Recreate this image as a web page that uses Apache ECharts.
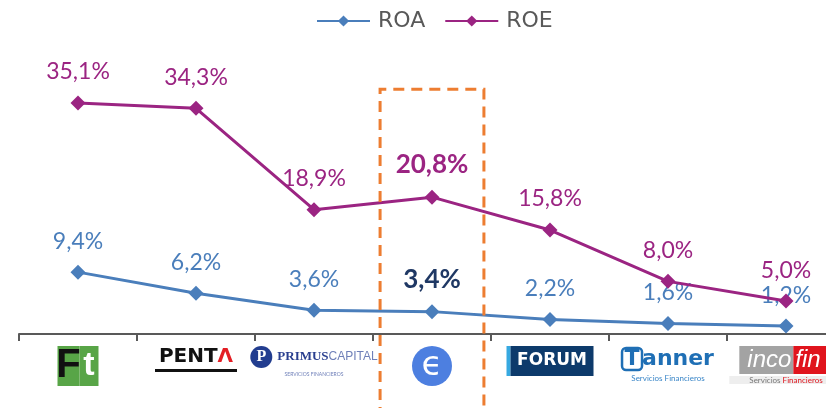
<!DOCTYPE html>
<html>
<head>
<meta charset="utf-8">
<script src="https://cdn.jsdelivr.net/npm/echarts@6/dist/echarts.min.js"></script>
<style>html,body{margin:0;padding:0;background:#fff}#c{width:826px;height:408px}</style>
</head>
<body>
<div id="c"></div>
<script>
// Data
var categories = ['Ft', 'PENTA', 'PRIMUS CAPITAL', 'Empresa', 'FORUM', 'Tanner', 'incofin'];
var roa = [9.4, 6.2, 3.6, 3.4, 2.2, 1.6, 1.2];
var roe = [35.1, 34.3, 18.9, 20.8, 15.8, 8.0, 5.0];
var seriesNames = ['ROA', 'ROE'];
var highlightIndex = 3;

var ROA_C = '#4a7ebb', ROE_C = '#9b2482', HI_ROA = '#1f3864', ORANGE = '#ed7d31';
var FONT = 'Lato, "DejaVu Sans", sans-serif';

function fmt(v) { return v.toFixed(1).replace('.', ',') + '%'; }

function mkData(arr, color, hiColor) {
  return arr.map(function (v, i) {
    var d = { value: v };
    if (i === highlightIndex) {
      d.label = { fontWeight: 'bold', color: hiColor, fontSize: 26 };
    }
    return d;
  });
}

var logoFormat = [
  '{fa|F}{fb|t}',
  '{pen|PENT}{pa|Λ}\n{pbar|}',
  '{pc|P}{pm|PRIMUS}{pcap|CAPITAL}\n{pspace|}{ps|SERVICIOS FINANCIEROS}',
  '{circ|ϵ}',
  '{fs|}{forum|FORUM}',
  '{tT|T}{tan|anner}\n{tsub|Servicios Financieros}',
  '{inco|inco}{fin|fin}\n{isub|Servicios }{isubr|Financieros}'
];

var chart = echarts.init(document.getElementById('c'));
chart.setOption({
  animation: false,
  textStyle: { fontFamily: FONT },
  legend: {
    top: 5, left: 311,
    itemWidth: 53, itemHeight: 14, itemGap: 19,
    textStyle: { fontSize: 22, color: '#595959', fontFamily: '"DejaVu Sans", sans-serif', padding: [0, 0, 0, 3] },
    data: seriesNames
  },
  grid: { left: 19, width: 826, top: 5, bottom: 74, outerBoundsMode: 'none', containLabel: false },
  xAxis: {
    type: 'category',
    data: categories,
    boundaryGap: true,
    axisLine: { lineStyle: { color: '#595959', width: 2 } },
    axisTick: { show: true, length: 7, lineStyle: { color: '#595959', width: 2 } },
    axisLabel: {
      margin: 12, interval: 0, hideOverlap: false,
      formatter: function (v, i) { return logoFormat[i]; },
      rich: {
        fa: { backgroundColor: '#58a547', color: '#111', fontSize: 40, fontWeight: 'bold', fontFamily: 'Liberation Sans', width: 22, height: 40, align: 'right', lineHeight: 40 },
        fb: { backgroundColor: '#58a547', color: '#fff', fontSize: 34, fontWeight: 'bold', fontFamily: 'Liberation Sans', width: 19, height: 40, align: 'left', lineHeight: 40, verticalAlign: 'bottom' },
        pen: { color: '#111', fontSize: 20, fontWeight: 'bold', fontFamily: 'DejaVu Sans', lineHeight: 22 },
        pa: { color: '#e31e24', fontSize: 20, fontWeight: 'bold', fontFamily: 'DejaVu Sans', lineHeight: 22 },
        pbar: { backgroundColor: '#111', width: 82, height: 3, lineHeight: 5 },
        pc: { backgroundColor: '#223d8f', color: '#fff', fontSize: 16, fontWeight: 'bold', fontFamily: 'Liberation Serif', width: 22, height: 22, borderRadius: 11, align: 'center', lineHeight: 22 },
        pm: { color: '#2a3f8f', fontSize: 13, fontWeight: 'bold', fontFamily: 'Liberation Serif', padding: [0, 0, 0, 5] },
        pcap: { color: '#6e7fb8', fontSize: 12, fontFamily: 'Liberation Sans' },
        pspace: { width: 0 },
        ps: { color: '#6e7fb8', fontSize: 5, lineHeight: 6 },
        circ: { backgroundColor: '#4d7fe0', color: '#fff', fontSize: 34, fontFamily: 'DejaVu Sans', width: 40, height: 40, borderRadius: 20, align: 'center', lineHeight: 40 },
        fs: { backgroundColor: '#36a9e1', width: 4, height: 30 },
        forum: { backgroundColor: '#0d3a6b', color: '#fff', fontSize: 17, fontWeight: 'bold', fontFamily: 'DejaVu Sans', width: 83, height: 30, align: 'center', lineHeight: 30 },
        tT: { color: '#1f6fb5', borderColor: '#1f6fb5', borderWidth: 2.5, borderRadius: 4, fontSize: 22, fontWeight: 'bold', fontFamily: 'DejaVu Sans', width: 20, height: 22, align: 'center', lineHeight: 22 },
        tan: { color: '#1f6fb5', fontSize: 22, fontWeight: 'bold', fontFamily: 'DejaVu Sans', lineHeight: 26 },
        tsub: { color: '#3a86c8', fontSize: 8, lineHeight: 12 },
        inco: { backgroundColor: '#a3a3a3', color: '#fff', fontSize: 24, fontStyle: 'italic', fontFamily: 'Liberation Sans', height: 28, lineHeight: 28, padding: [0, 2, 0, 8] },
        fin: { backgroundColor: '#e0141d', color: '#fff', fontSize: 24, fontStyle: 'italic', fontFamily: 'Liberation Sans', height: 28, lineHeight: 28, padding: [0, 12, 0, 2] },
        isub: { backgroundColor: '#eeeeee', color: '#777', fontSize: 8, lineHeight: 12, padding: [0, 0, 0, 20] },
        isubr: { backgroundColor: '#eeeeee', color: '#e0141d', fontSize: 8, lineHeight: 12, padding: [0, 20, 0, 0] }
      }
    }
  },
  yAxis: { type: 'value', min: 0, max: 50, show: false, splitLine: { show: false } },
  series: [
    {
      name: 'ROA', type: 'line', data: mkData(roa, ROA_C, HI_ROA),
      symbol: 'diamond', symbolSize: 15,
      itemStyle: { color: ROA_C }, lineStyle: { color: ROA_C, width: 3 },
      label: { show: true, position: 'top', distance: 12, color: ROA_C, fontSize: 23, fontFamily: FONT, formatter: function (p) { return fmt(p.value); } },
      z: 3
    },
    {
      name: 'ROE', type: 'line', data: mkData(roe, ROE_C, ROE_C),
      symbol: 'diamond', symbolSize: 15,
      itemStyle: { color: ROE_C }, lineStyle: { color: ROE_C, width: 3 },
      label: { show: true, position: 'top', distance: 12, color: ROE_C, fontSize: 23, fontFamily: FONT, formatter: function (p) { return fmt(p.value); } },
      z: 4
    }
  ]
});

// Dashed highlight box around the highlighted category, positioned from the axis
var cx = chart.convertToPixel({ xAxisIndex: 0 }, categories[highlightIndex]);
var band = chart.convertToPixel({ xAxisIndex: 0 }, categories[highlightIndex + 1]) - cx;
var half = band * 0.44;
var topY = chart.convertToPixel({ yAxisIndex: 0 }, 37.2);
var botY = chart.getHeight() + 10;
chart.setOption({
  graphic: [{
    type: 'polyline', z: 10,
    shape: { points: [[cx - half, botY], [cx - half, topY], [cx + half, topY], [cx + half, botY]] },
    style: { stroke: ORANGE, lineWidth: 3, lineDash: [11, 7], fill: null }
  }]
});
</script>
</body>
</html>
